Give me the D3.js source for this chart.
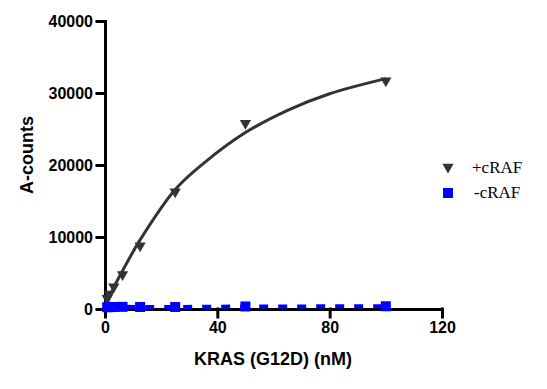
<!DOCTYPE html>
<html>
<head>
<meta charset="utf-8">
<script src="https://cdn.jsdelivr.net/npm/d3@7"></script>
<style>
  body { margin: 0; background: #fff; }
  svg text { font-family: Arial, "Liberation Sans", sans-serif; }
</style>
</head>
<body>
<div id="chart"></div>
<script>
// KRAS concentrations (nM)
var concPlus = [0.78, 1.56, 3.13, 6.25, 12.5, 25, 50, 100]
var countsPlus = [1500, 2100, 3100, 4800, 8800, 16300, 25800, 31700]

var concMinus = [0.78, 1.56, 3.13, 6.25, 12.5, 25, 50, 100]
var countsMinus = [250, 260, 280, 300, 280, 280, 350, 380]

// fitted curve for +cRAF
var fitX = [0, 1, 3, 6.25, 12.5, 25, 35, 50, 65, 80, 100]
var fitY = [0, 1050, 2900, 5300, 9600, 16600, 20200, 24500, 27600, 29900, 32000]

var xTicks = [0, 40, 80, 120]
var yTicks = [0, 10000, 20000, 30000, 40000]
var seriesNames = ["+cRAF", "-cRAF"]

var width = 547, height = 389

var svg = d3.select("#chart")
  .append("svg")
    .attr("width", width)
    .attr("height", height)

var x = d3.scaleLinear().domain([0, 120]).range([105, 442])
var y = d3.scaleLinear().domain([0, 40000]).range([309, 21])

// axes
var xAxis = svg.append("g")
  .attr("transform", "translate(0," + y(0) + ")")
  .call(d3.axisBottom(x).tickValues(xTicks).tickSize(8).tickSizeOuter(0).tickPadding(5).tickFormat(d3.format("d")))
var yAxis = svg.append("g")
  .attr("transform", "translate(" + x(0) + ",0)")
  .call(d3.axisLeft(y).tickValues(yTicks).tickSize(8).tickSizeOuter(0).tickPadding(4).tickFormat(d3.format("d")))

svg.selectAll(".domain, .tick line")
  .attr("stroke", "#000")
  .attr("stroke-width", 3)
  .attr("stroke-linecap", "square")
svg.selectAll(".tick text")
  .attr("font-family", "Arial, 'Liberation Sans', sans-serif")
  .attr("font-weight", "bold")
  .attr("font-size", 16)
  .attr("fill", "#000")

// axis titles
svg.append("text")
  .attr("x", 273)
  .attr("y", 365)
  .attr("text-anchor", "middle")
  .style("font-weight", "bold")
  .attr("font-size", 18)
  .text("KRAS (G12D) (nM)")

svg.append("text")
  .attr("transform", "translate(33,155) rotate(-90)")
  .attr("text-anchor", "middle")
  .style("font-weight", "bold")
  .attr("font-size", 18)
  .text("A-counts")

// +cRAF fit curve
var fitLine = d3.line()
  .x(function(d, i){ return x(fitX[i]) })
  .y(function(d){ return y(d) })
  .curve(d3.curveCatmullRom.alpha(0.5))

svg.append("path")
  .datum(fitY)
  .attr("d", fitLine)
  .attr("fill", "none")
  .attr("stroke", "#333")
  .attr("stroke-width", 3)

var tri = d3.symbol().type(d3.symbolTriangle).size(55)

svg.selectAll(".plus")
  .data(countsPlus)
  .enter()
  .append("path")
    .attr("class", "plus")
    .attr("d", tri)
    .attr("transform", function(d, i){ return "translate(" + x(concPlus[i]) + "," + y(d) + ") rotate(180)" })
    .attr("fill", "#333")

// -cRAF dashed line + squares
var minusLine = d3.line()
  .x(function(d, i){ return x(concMinus[i]) })
  .y(function(d){ return y(d) })

svg.append("path")
  .datum(countsMinus)
  .attr("d", minusLine)
  .attr("fill", "none")
  .attr("stroke", "#0000ff")
  .attr("stroke-width", 4)
  .attr("stroke-dasharray", "9,10")

svg.selectAll(".minus")
  .data(countsMinus)
  .enter()
  .append("rect")
    .attr("class", "minus")
    .attr("x", function(d, i){ return x(concMinus[i]) - 5 })
    .attr("y", function(d){ return y(d) - 5 })
    .attr("width", 10)
    .attr("height", 10)
    .attr("fill", "#0000ff")

// legend
var legend = svg.append("g")

legend.append("path")
  .attr("d", tri)
  .attr("transform", "translate(448,167) rotate(180)")
  .attr("fill", "#333")
legend.append("rect")
  .attr("x", 443)
  .attr("y", 188)
  .attr("width", 10)
  .attr("height", 10)
  .attr("fill", "#0000ff")

legend.selectAll(".lbl")
  .data(seriesNames)
  .enter()
  .append("text")
    .attr("class", "lbl")
    .attr("x", function(d, i){ return i == 0 ? 472 : 474 })
    .attr("y", function(d, i){ return 173 + i * 25 })
    .style("font-family", "'Liberation Serif', 'Times New Roman', serif")
    .attr("font-size", 17)
    .text(function(d){ return d })
</script>
</body>
</html>
